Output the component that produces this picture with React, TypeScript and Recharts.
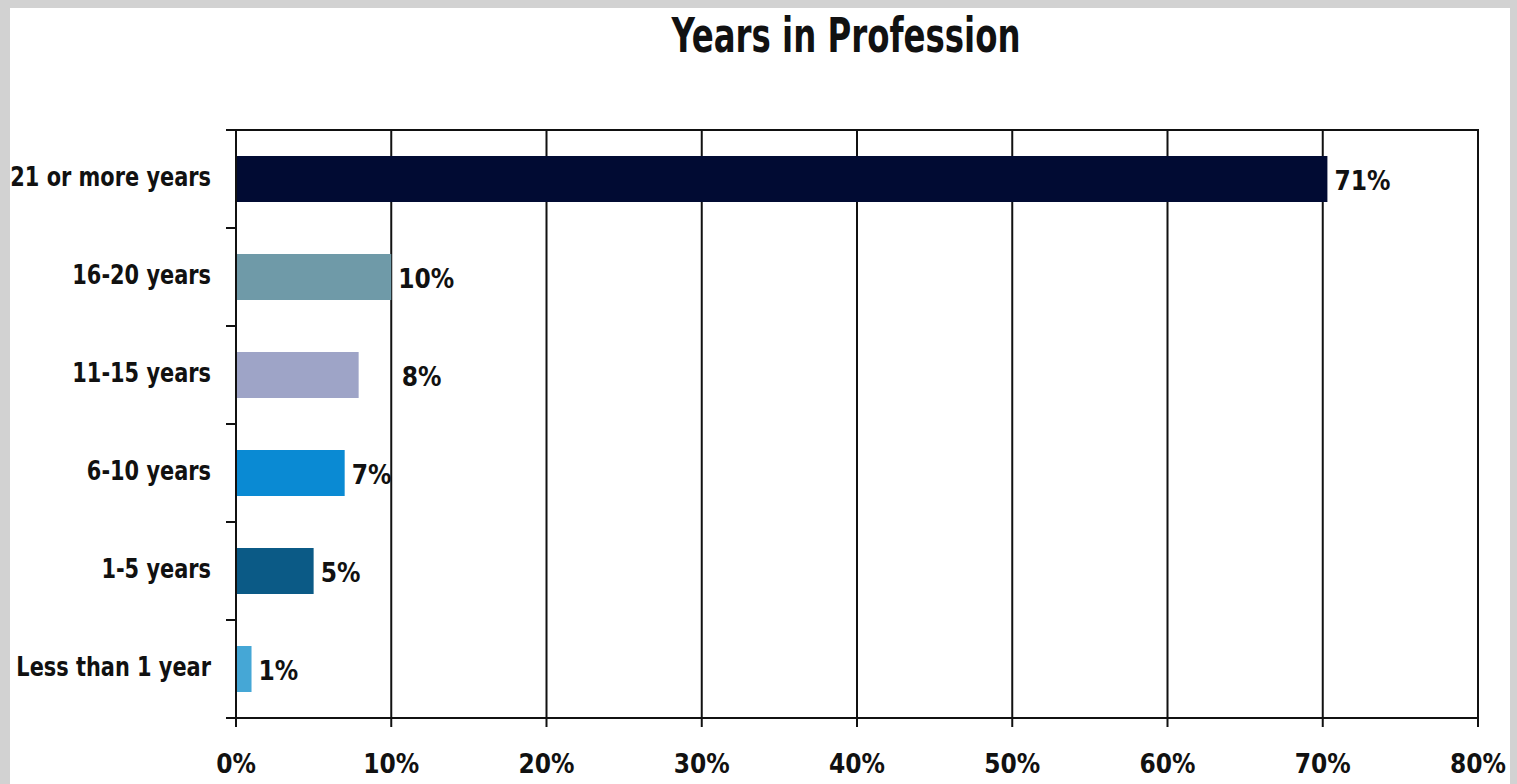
import React from 'react'
import { BarChart, Bar, XAxis, YAxis, CartesianGrid, Cell, LabelList, ReferenceArea } from 'recharts'

const categories = ['21 or more years', '16-20 years', '11-15 years', '6-10 years', '1-5 years', 'Less than 1 year']
const shares = [70.3, 10, 7.9, 7.0, 5.0, 1.0]
const shareLabels = ['71%', '10%', '8%', '7%', '5%', '1%']
const xTicks = [0, 10, 20, 30, 40, 50, 60, 70, 80]

const barColors = ['#010b33', '#6f9aa8', '#9ea4c7', '#0a8ad3', '#0b5a86', '#45a7d6']
// the 8% label sits further right in the original
const labelShift: Record<string, number> = { '11-15 years': 36 }

const FONT = "'DejaVu Sans Condensed', 'Liberation Sans Narrow', sans-serif"

const rows = categories.map((name, i) => ({ name, share: shares[i], label: shareLabels[i] }))

function CategoryTick(props: any) {
  const { x, y, payload, index, visibleTicksCount } = props
  const half = payload.offset ?? 0
  return (
    <g>
      <line x1={x - 10} x2={x} y1={y - half} y2={y - half} stroke="#111" strokeWidth={2} />
      {index === visibleTicksCount - 1 && (
        <line x1={x - 10} x2={x} y1={y + half} y2={y + half} stroke="#111" strokeWidth={2} />
      )}
      <text
        transform={`translate(${x - 25},${y - 2}) scale(0.86,1)`}
        textAnchor="end"
        dominantBaseline="central"
        fontFamily={FONT}
        fontWeight={700}
        fontSize={27}
        fill="#111"
      >
        {payload.value}
      </text>
    </g>
  )
}

function ValueLabel(props: any) {
  const { x, y, width, height, value, index } = props
  const shift = labelShift[categories[index]] ?? 0
  return (
    <text x={x + width + 7 + shift} y={y + height / 2 + 2} dominantBaseline="central" fontFamily={FONT} fontWeight={700} fontSize={26} fill="#111">
      {value}
    </text>
  )
}

export default function App() {
  return (
    <div style={{ position: 'absolute', left: 0, top: 0, width: 1517, height: 784, background: '#d2d2d2', overflow: 'hidden' }}>
      <div style={{ position: 'absolute', left: 10, top: 8, width: 1500, height: 776, background: '#fff' }} />
      <div
        style={{
          position: 'absolute', left: 346, top: 6, width: 1000, textAlign: 'center',
          fontFamily: FONT, fontWeight: 700, fontSize: 48, color: '#111', lineHeight: '58px',
          transform: 'scaleX(0.75)', transformOrigin: '500px 0',
        }}
      >
        Years in Profession
      </div>
      <div style={{ position: 'absolute', left: 0, top: 0 }}>
        <BarChart width={1517} height={784} data={rows} layout="vertical" margin={{ top: 130, right: 39, bottom: 0, left: 0 }} barCategoryGap={0}>
          <CartesianGrid horizontal={false} stroke="#111" strokeWidth={2} />
          <XAxis
            type="number"
            domain={[0, 80]}
            ticks={xTicks}
            interval={0}
            height={66}
            tickSize={9}
            tickMargin={28}
            tickFormatter={(v) => `${v}%`}
            axisLine={{ stroke: '#111', strokeWidth: 2 }}
            tickLine={{ stroke: '#111', strokeWidth: 2 }}
            tick={{ fontFamily: FONT, fontWeight: 700, fontSize: 26, fill: '#111' }}
          />
          <YAxis
            type="category"
            dataKey="name"
            width={236}
            tickSize={0}
            tickMargin={0}
            tickLine={false}
            axisLine={{ stroke: '#111', strokeWidth: 2 }}
            tick={<CategoryTick />}
            interval={0}
          />
          <ReferenceArea x1={0} x2={80} fill="none" stroke="#111" strokeWidth={2} ifOverflow="visible" />
          <Bar dataKey="share" barSize={46} isAnimationActive={false}>
            {rows.map((r, i) => (
              <Cell key={r.name} fill={barColors[i]} />
            ))}
            <LabelList dataKey="label" content={<ValueLabel />} />
          </Bar>
        </BarChart>
      </div>
    </div>
  )
}
